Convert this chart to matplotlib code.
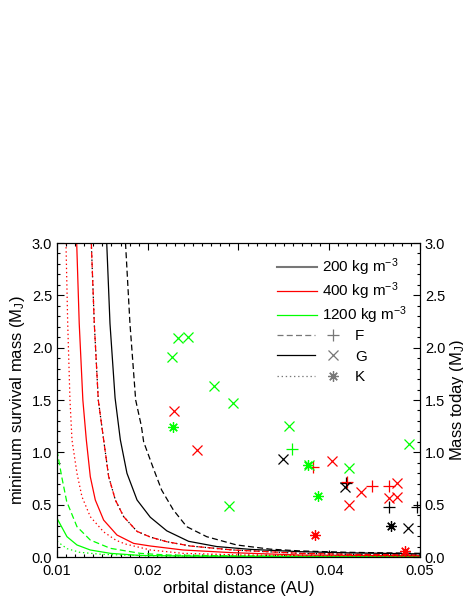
import matplotlib
matplotlib.use("Agg")
import matplotlib.pyplot as plt
from matplotlib.lines import Line2D
from matplotlib.legend_handler import HandlerTuple
from matplotlib.ticker import MultipleLocator, FormatStrFormatter

plt.rcParams['font.family'] = ['Liberation Sans', 'DejaVu Sans']
plt.rcParams['mathtext.fontset'] = 'custom'
plt.rcParams['mathtext.rm'] = 'Liberation Sans'
plt.rcParams['mathtext.it'] = 'Liberation Sans:italic'

# minimum survival mass curves (AU, M_J)
# 200 kg m^-3 (black)
F_200_x = [0.01755, 0.01804, 0.01867, 0.0193, 0.01955, 0.02065, 0.02153, 0.02282, 0.02429, 0.0265, 0.0298, 0.0335, 0.0368, 0.042, 0.05]
F_200_y = [3.0, 2.23, 1.5, 1.25, 1.1, 0.84, 0.64, 0.45, 0.29, 0.194, 0.115, 0.075, 0.058, 0.045, 0.035]
G_200_x = [0.01548, 0.01584, 0.0164, 0.01698, 0.01771, 0.01882, 0.02028, 0.0221, 0.0245, 0.0276, 0.0313, 0.0368, 0.042, 0.05]
G_200_y = [3.0, 2.23, 1.52, 1.12, 0.80, 0.545, 0.38, 0.25, 0.15, 0.10, 0.073, 0.051, 0.04, 0.03]
K_200_x = [0.01378, 0.01411, 0.01455, 0.01514, 0.01569, 0.01643, 0.01735, 0.01882, 0.0203, 0.0221, 0.0247, 0.0294, 0.0368, 0.043, 0.05]
K_200_y = [3.0, 2.23, 1.5, 1.12, 0.77, 0.545, 0.385, 0.245, 0.19, 0.146, 0.105, 0.067, 0.035, 0.025, 0.02]
# 400 kg m^-3 (red)
F_400_x = [0.01378, 0.01411, 0.01455, 0.01514, 0.01569, 0.01643, 0.01735, 0.01882, 0.0203, 0.0221, 0.0247, 0.0294, 0.0368, 0.043, 0.05]
F_400_y = [3.0, 2.23, 1.5, 1.12, 0.77, 0.545, 0.385, 0.245, 0.19, 0.146, 0.105, 0.067, 0.035, 0.025, 0.02]
G_400_x = [0.01217, 0.01245, 0.01285, 0.01323, 0.01367, 0.01422, 0.01514, 0.01661, 0.01845, 0.0203, 0.0239, 0.0294, 0.0368, 0.05]
G_400_y = [3.0, 2.23, 1.5, 1.12, 0.767, 0.545, 0.353, 0.21, 0.13, 0.105, 0.067, 0.041, 0.019, 0.012]
K_400_x = [0.01099, 0.01118, 0.01143, 0.01165, 0.0122, 0.01275, 0.01367, 0.01514, 0.0165, 0.0175, 0.0203, 0.0239, 0.03, 0.0368, 0.05]
K_400_y = [3.0, 2.23, 1.5, 1.12, 0.80, 0.576, 0.385, 0.24, 0.16, 0.125, 0.067, 0.035, 0.02, 0.013, 0.008]
# 1200 kg m^-3 (green)
F_1200_x = [0.01, 0.01052, 0.01107, 0.0122, 0.01367, 0.01588, 0.01918, 0.0221, 0.03, 0.05]
F_1200_y = [1.02, 0.767, 0.53, 0.29, 0.162, 0.083, 0.035, 0.019, 0.01, 0.005]
G_1200_x = [0.01, 0.0111, 0.0122, 0.01367, 0.01588, 0.01918, 0.025, 0.05]
G_1200_y = [0.37, 0.194, 0.115, 0.067, 0.035, 0.015, 0.008, 0.003]
K_1200_x = [0.01, 0.0111, 0.0125, 0.015, 0.02, 0.03, 0.05]
K_1200_y = [0.15, 0.08, 0.045, 0.025, 0.012, 0.006, 0.003]

# planets (orbital distance AU, mass today M_J), by host type and colour
F_black_x = [0.0419, 0.04662, 0.0497]
F_black_y = [0.71, 0.475, 0.475]
F_red_x = [0.03824, 0.04199, 0.04468, 0.04662]
F_red_y = [0.857, 0.717, 0.678, 0.681]
F_green_x = [0.03593]
F_green_y = [1.029]
G_black_x = [0.03487, 0.0417, 0.04868]
G_black_y = [0.936, 0.672, 0.274]
G_red_x = [0.02289, 0.02539, 0.0403, 0.04346, 0.04218, 0.0475, 0.04662, 0.0475]
G_red_y = [1.398, 1.022, 0.917, 0.618, 0.50, 0.71, 0.567, 0.576]
G_green_x = [0.02337, 0.02447, 0.02264, 0.02733, 0.02943, 0.0356, 0.02899, 0.0378, 0.04214, 0.04879]
G_green_y = [2.089, 2.099, 1.908, 1.637, 1.468, 1.252, 0.487, 0.88, 0.85, 1.077]
K_black_x = [0.04684]
K_black_y = [0.296]
K_red_x = [0.03843, 0.04831]
K_red_y = [0.207, 0.057]
K_green_x = [0.02282, 0.03769, 0.03873]
K_green_y = [1.24, 0.882, 0.586]

density_labels = ['200 kg m$^{-3}$', '400 kg m$^{-3}$', '1200 kg m$^{-3}$']
star_labels = ['F', 'G', 'K']

GREEN = '#00ff00'
GRAY = '#777777'
dashed = (0, (4.8, 2.6))
dotted = (0, (1.1, 2.2))
asterisk = (8, 2, 0)

fig = plt.figure(figsize=(4.63, 5.99), dpi=100)
ax = fig.add_axes([0.1231, 0.0701, 0.784, 0.5242])

lw = 0.9
ax.plot(K_1200_x, K_1200_y, color=GREEN, lw=lw, ls=dotted)
ax.plot(G_1200_x, G_1200_y, color=GREEN, lw=lw)
ax.plot(F_1200_x, F_1200_y, color=GREEN, lw=lw, ls=dashed)
ax.plot(K_400_x, K_400_y, color='red', lw=lw, ls=dotted)
ax.plot(G_400_x, G_400_y, color='red', lw=lw)
ax.plot(K_200_x, K_200_y, color='black', lw=lw, ls=dotted)
ax.plot(F_400_x, F_400_y, color='red', lw=lw, ls=dashed)
ax.plot(G_200_x, G_200_y, color='black', lw=lw)
ax.plot(F_200_x, F_200_y, color='black', lw=lw, ls=dashed)

ms = 7.5
mew = 0.9
for xs, ys, c in [(F_black_x, F_black_y, 'black'), (F_red_x, F_red_y, 'red'), (F_green_x, F_green_y, GREEN)]:
    ax.plot(xs, ys, ls='none', marker='+', ms=ms + 1, mew=mew, color=c)
for xs, ys, c in [(G_black_x, G_black_y, 'black'), (G_red_x, G_red_y, 'red'), (G_green_x, G_green_y, GREEN)]:
    ax.plot(xs, ys, ls='none', marker='x', ms=ms, mew=mew, color=c)
for xs, ys, c in [(K_black_x, K_black_y, 'black'), (K_red_x, K_red_y, 'red'), (K_green_x, K_green_y, GREEN)]:
    ax.plot(xs, ys, ls='none', marker=asterisk, ms=ms, mew=mew, color=c)

ax.set_xlim(0.01, 0.05)
ax.set_ylim(0, 3)
ax.xaxis.set_major_locator(MultipleLocator(0.01))
ax.xaxis.set_minor_locator(MultipleLocator(0.001))
ax.yaxis.set_major_locator(MultipleLocator(0.5))
ax.yaxis.set_minor_locator(MultipleLocator(0.1))
ax.xaxis.set_major_formatter(FormatStrFormatter('%.2f'))
ax.yaxis.set_major_formatter(FormatStrFormatter('%.1f'))
ax.tick_params(which='both', direction='in', top=True, right=False, labelsize=10.5, width=0.8)
ax.tick_params(which='major', length=5)
ax.tick_params(which='minor', length=2.5)
ax.tick_params(axis='x', which='major', pad=5)
ax.set_xlabel('orbital distance (AU)', fontsize=12, labelpad=2)
ax.set_ylabel('minimum survival mass (M$_\\mathregular{J}$)', fontsize=12, labelpad=3)

ax2 = ax.twinx()
ax2.set_ylim(0, 3)
ax2.yaxis.set_major_locator(MultipleLocator(0.5))
ax2.yaxis.set_minor_locator(MultipleLocator(0.1))
ax2.yaxis.set_major_formatter(FormatStrFormatter('%.1f'))
ax2.tick_params(which='both', direction='in', labelsize=10.5, width=0.8)
ax2.tick_params(which='major', length=5)
ax2.tick_params(which='minor', length=2.5)
ax2.set_ylabel('Mass today (M$_\\mathregular{J}$)', fontsize=12, labelpad=2)

# legend: densities
dens_handles = [Line2D([], [], color=GRAY, lw=1.5),
                Line2D([], [], color='red', lw=0.9),
                Line2D([], [], color=GREEN, lw=0.9)]
leg1 = ax2.legend(dens_handles, density_labels, loc='upper left', bbox_to_anchor=(0.607, 0.956),
                  frameon=False, fontsize=11, handlelength=2.6, handletextpad=0.35,
                  labelspacing=0.15, borderpad=0, borderaxespad=0)
ax2.add_artist(leg1)

# legend: host star types
star_handles = [(Line2D([], [], color=GRAY, lw=0.9, ls=dashed), Line2D([], [], color=GRAY, ls='none', marker='+', ms=ms + 1, mew=mew)),
                (Line2D([], [], color='black', lw=0.9), Line2D([], [], color=GRAY, ls='none', marker='x', ms=ms, mew=mew)),
                (Line2D([], [], color=GRAY, lw=0.9, ls=dotted), Line2D([], [], color=GRAY, ls='none', marker=asterisk, ms=ms, mew=mew))]
ax2.legend(star_handles, star_labels, loc='upper left', bbox_to_anchor=(0.607, 0.725),
           frameon=False, fontsize=11, handlelength=4.9, handletextpad=0.2, numpoints=1,
           labelspacing=0.42, borderpad=0, borderaxespad=0,
           handler_map={tuple: HandlerTuple(ndivide=2, pad=0)})

fig.savefig('out.png', dpi=100)
